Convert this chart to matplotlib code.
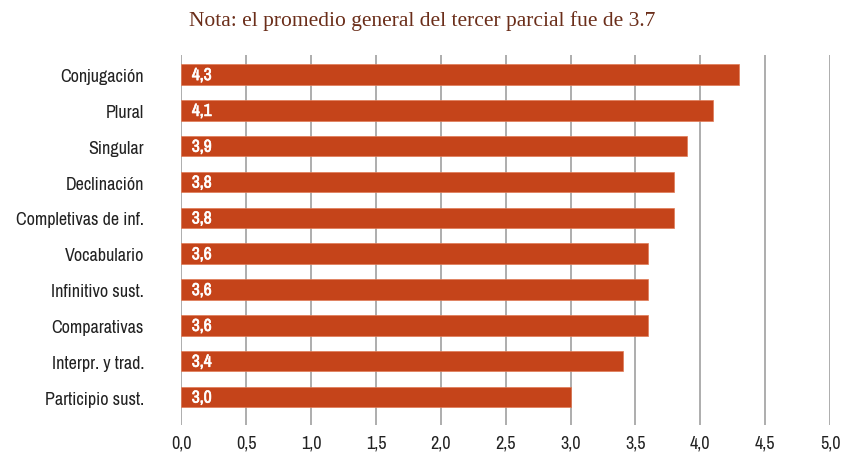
import matplotlib.pyplot as plt
import matplotlib.patheffects as pe
from matplotlib import font_manager

categorias = ["Conjugación", "Plural", "Singular", "Declinación", "Completivas de inf.",
              "Vocabulario", "Infinitivo sust.", "Comparativas", "Interpr. y trad.", "Participio sust."]
promedios = [4.3, 4.1, 3.9, 3.8, 3.8, 3.6, 3.6, 3.6, 3.4, 3.0]
etiquetas_x = ["0,0", "0,5", "1,0", "1,5", "2,0", "2,5", "3,0", "3,5", "4,0", "4,5", "5,0"]
valores_x = [0, 0.5, 1, 1.5, 2, 2.5, 3, 3.5, 4, 4.5, 5]

# buscar una fuente estrecha si la hay
fuente = None
for f in font_manager.fontManager.ttflist:
    if "Condensed" in f.name or "Narrow" in f.name:
        fuente = f.name
        break
if fuente is None:
    fuente = "Roboto"
tam = 13 if fuente != "Roboto" else 10.5

fig = plt.figure(figsize=(8.44, 4.6), dpi=100)
ax = fig.add_axes([0.215, 0.074, 0.7685, 0.8043])

ax.set_axisbelow(True)
ax.grid(axis="x", color="#a0a0a0", linewidth=1.2)
pos = list(range(len(categorias)))
ax.barh(pos, promedios, height=0.57, color="#c5441a", edgecolor="#e07a55", linewidth=0.5)

for y, v in zip(pos, promedios):
    ax.text(0.08, y + 0.03, f"{v:.1f}".replace(".", ","), color="white", fontweight="bold",
            fontsize=tam - 0.5, va="center", ha="left", family=fuente,
            path_effects=[pe.withStroke(linewidth=0.5, foreground="white")])

ax.set_ylim(9.78, -0.545)
ax.set_xlim(0, 5)
ax.set_yticks(pos)
ax.set_yticklabels(categorias, family=fuente, fontsize=tam, color="#222222")
ax.set_xticks(valores_x)
ax.set_xticklabels(etiquetas_x, family=fuente, fontsize=tam, color="#222222")
ax.tick_params(axis="y", length=0, pad=27)
ax.tick_params(axis="x", length=0, pad=7)
for s in ax.spines.values():
    s.set_visible(False)

fig.text(0.5, 0.955, "Nota: el promedio general del tercer parcial fue de 3.7",
         family="Liberation Serif", fontsize=15.5, color="#6b2e1a", ha="center", va="center")

fig.savefig("out.png", dpi=100)
